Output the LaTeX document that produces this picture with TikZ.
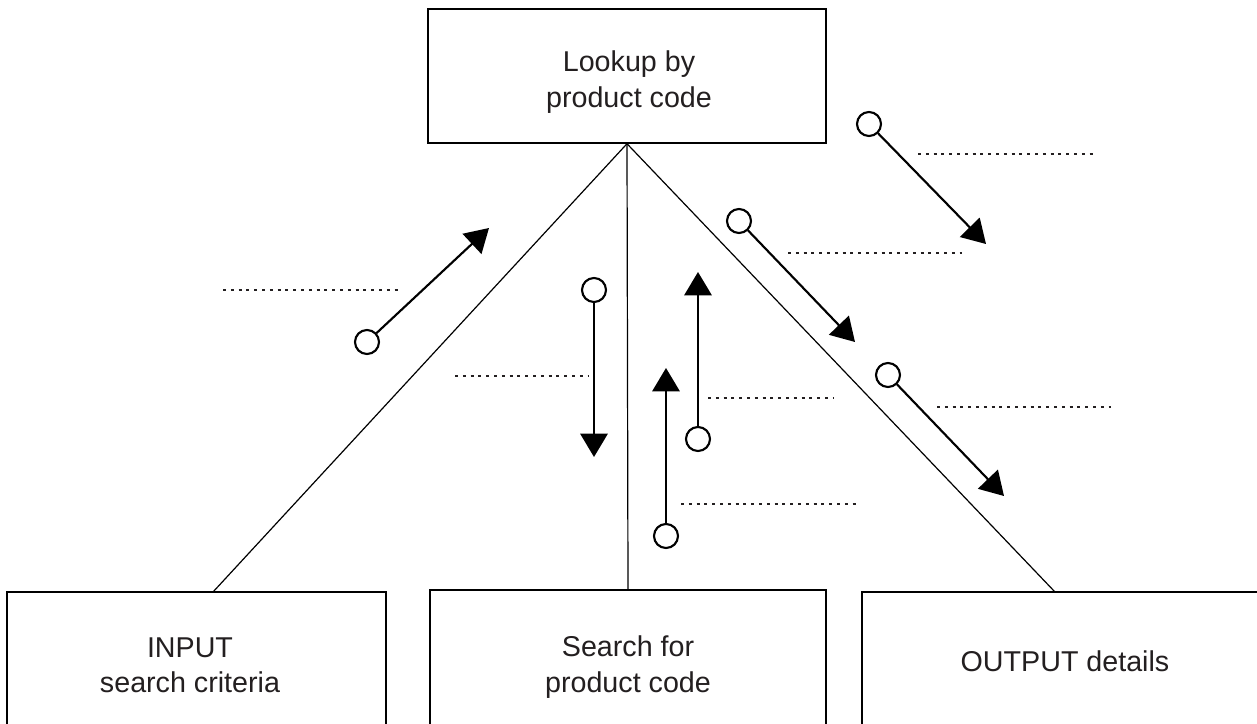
\documentclass[tikz,border=0pt]{standalone}
\usepackage{fontspec}
\setmainfont{Liberation Sans}
\usetikzlibrary{arrows.meta}
\definecolor{ink}{HTML}{231F20}
\tikzset{
  boxstyle/.style={draw=black, line width=1.1pt, rectangle, inner sep=0pt},
  txt/.style={text=ink, align=center, inner sep=0pt, font=\fontsize{21.5}{26.5}\selectfont},
  branch/.style={draw=black, line width=0.9pt},
  flowarrow/.style={draw=black, line width=1.6pt, -{Triangle[length=17.5pt, width=20.5pt]}},
  flag/.style={draw=black, line width=1.6pt, circle, minimum size=18pt, inner sep=0pt, fill=white},
  blank/.style={draw=ink, line width=2pt, dash pattern=on 2.2pt off 3.65pt}
}
\begin{document}
\begin{tikzpicture}[x=0.75pt, y=-0.75pt]
\clip (0,0) rectangle (1257,724);
\fill[white] (0,0) rectangle (1257,724);

% boxes
\node[boxstyle, minimum width=298.5pt, minimum height=100.5pt] (top) at (627,76) {};
\node[txt] (toptxt) at (629,82) {Lookup by\\product code};

\node[boxstyle, minimum width=284.25pt, minimum height=114pt] (box1) at (196.5,668) {};
\node[txt] (box1txt) at (190,665) {INPUT\\search criteria};

\node[boxstyle, minimum width=297pt, minimum height=117pt] (box2) at (628,668) {};
\node[txt] (box2txt) at (628,667) {Search for\\product code};

\node[boxstyle, minimum width=313.5pt, minimum height=114pt] (box3) at (1071,668) {};
\node[txt] (box3txt) at (1065,661) {OUTPUT details};

% branches
\coordinate (lend) at (213,592);
\coordinate (rend) at (1055,592);
\draw[branch] (top.south) -- (lend);
\draw[branch] (top.south) -- (box2.north);
\draw[branch] (top.south) -- (rend);

% data flow arrows
\node[flag] (c1) at (367,342) {};
\coordinate (t1) at (489,228);
\draw[flowarrow] (c1) -- (t1);

\node[flag] (c2) at (594,290) {};
\coordinate (t2) at (594,457);
\draw[flowarrow] (c2) -- (t2);

\node[flag] (c3) at (869,124) {};
\coordinate (t3) at (986,244);
\draw[flowarrow] (c3) -- (t3);

\node[flag] (c4) at (739,221) {};
\coordinate (t4) at (855,342);
\draw[flowarrow] (c4) -- (t4);

\node[flag] (c5) at (698,439) {};
\coordinate (t5) at (698,272);
\draw[flowarrow] (c5) -- (t5);

\node[flag] (c6) at (888,375) {};
\coordinate (t6) at (1004,496);
\draw[flowarrow] (c6) -- (t6);

\node[flag] (c7) at (666,536) {};
\coordinate (t7) at (666,368);
\draw[flowarrow] (c7) -- (t7);

% dotted answer lines
\coordinate (d1a) at (223,290); \coordinate (d1b) at (398,290);
\draw[blank] (d1a) -- (d1b);
\coordinate (d2a) at (455,376); \coordinate (d2b) at (588,376);
\draw[blank] (d2a) -- (d2b);
\coordinate (d3a) at (918,154); \coordinate (d3b) at (1093,154);
\draw[blank] (d3a) -- (d3b);
\coordinate (d4a) at (788,253); \coordinate (d4b) at (962,253);
\draw[blank] (d4a) -- (d4b);
\coordinate (d5a) at (708,398); \coordinate (d5b) at (833,398);
\draw[blank] (d5a) -- (d5b);
\coordinate (d6a) at (937,407); \coordinate (d6b) at (1111,407);
\draw[blank] (d6a) -- (d6b);
\coordinate (d7a) at (681,504); \coordinate (d7b) at (856,504);
\draw[blank] (d7a) -- (d7b);
\end{tikzpicture}
\end{document}
